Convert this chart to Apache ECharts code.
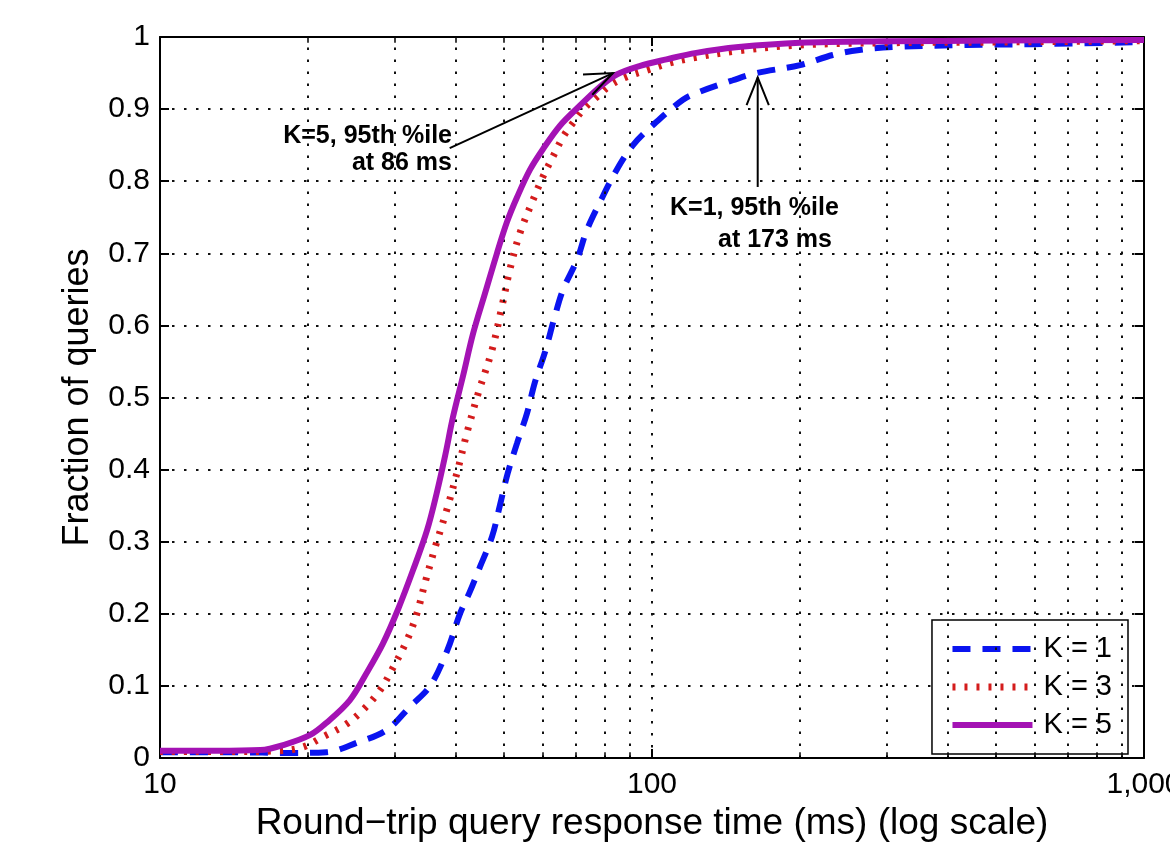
<!DOCTYPE html>
<html>
<head>
<meta charset="utf-8">
<script src="https://cdn.jsdelivr.net/npm/echarts@6/dist/echarts.min.js"></script>
<style>html,body{margin:0;padding:0;background:#fff;}#main{width:1170px;height:842px;}</style>
</head>
<body>
<div id="main"></div>
<script>
// ---- data ----
const seriesNames = ['K = 1', 'K = 3', 'K = 5'];
const k1X = [10, 14, 18.6, 21.8, 25.1, 28.9, 32.2, 35.4, 38.4, 40.7, 42.6, 44.7, 47.3, 49.1, 50.9, 53.2, 55.7, 57.8, 60.6, 63.3, 65.9, 70.4, 73.7, 78.4, 84.8, 91.5, 100.5, 115.6, 125, 146, 163, 200, 233, 264, 309, 435, 593, 1000];
const k1Y = [0.008, 0.008, 0.007, 0.008, 0.021, 0.039, 0.071, 0.100, 0.150, 0.200, 0.230, 0.265, 0.307, 0.351, 0.395, 0.437, 0.478, 0.521, 0.563, 0.61, 0.649, 0.691, 0.732, 0.771, 0.816, 0.850, 0.878, 0.913, 0.924, 0.940, 0.950, 0.961, 0.975, 0.982, 0.986, 0.989, 0.990, 0.993];
const k3X = [10, 14, 17.5, 19.5, 21.4, 23.8, 25.8, 28.0, 29.8, 31.8, 33.3, 34.6, 36.2, 38.3, 40.3, 42.1, 44.3, 47.3, 49.5, 51.4, 53.9, 57.3, 60.0, 62.9, 65.9, 69.1, 73.1, 77.3, 82.2, 89.0, 97.7, 108.8, 121, 150, 200, 300, 500, 1000];
const k3Y = [0.009, 0.009, 0.01, 0.015, 0.029, 0.046, 0.066, 0.094, 0.126, 0.164, 0.201, 0.244, 0.291, 0.345, 0.400, 0.452, 0.505, 0.566, 0.625, 0.677, 0.728, 0.774, 0.806, 0.834, 0.861, 0.881, 0.902, 0.917, 0.933, 0.945, 0.954, 0.964, 0.971, 0.981, 0.989, 0.992, 0.993, 0.995];
const k5X = [10, 13, 16.0, 18.0, 20.2, 21.8, 24.3, 26.3, 28.4, 30.5, 32.7, 34.9, 36.5, 38.0, 39.4, 41.3, 43.3, 45.8, 48.4, 50.7, 53.2, 56.5, 60.1, 65.0, 71.4, 78.4, 84.8, 94.6, 107, 123, 150, 200, 300, 500, 1000];
const k5Y = [0.010, 0.010, 0.011, 0.019, 0.032, 0.049, 0.080, 0.118, 0.159, 0.207, 0.261, 0.316, 0.367, 0.420, 0.473, 0.530, 0.589, 0.645, 0.700, 0.743, 0.778, 0.816, 0.845, 0.877, 0.905, 0.931, 0.948, 0.960, 0.969, 0.978, 0.986, 0.992, 0.994, 0.995, 0.996];
const minorX = [20, 30, 40, 50, 60, 70, 80, 90, 200, 300, 400, 500, 600, 700, 800, 900];
const xTickLabels = {10: '10', 100: '100', 1000: '1,000'};
const notes = [
  {lines: ['K=5, 95th %ile', 'at 86 ms'], from: [38.8, 0.846], to: [83.3, 0.950]},
  {lines: ['K=1, 95th %ile', 'at 173 ms'], from: [164, 0.792], to: [164, 0.944]}
];

const pairs = (xs, ys) => xs.map((x, i) => [x, ys[i]]);
const font = 'Arial, "Liberation Sans", Helvetica, sans-serif';
const gridDot = {color: '#111', width: 2, type: [2.5, 9.5]};

const minorGrid = minorX.map(v => ({xAxis: v}));
const minorTicks = [];
minorX.forEach(v => {
  minorTicks.push([{coord: [v, 0]}, {coord: [v, 0.008]}]);
  minorTicks.push([{coord: [v, 1]}, {coord: [v, 0.992]}]);
});

const chart = echarts.init(document.getElementById('main'));
const hideSym = {opacity: 0, borderWidth: 0};
const option = {
  animation: false,
  backgroundColor: '#fff',
  grid: {left: 160, right: 26, top: 37, bottom: 84, containLabel: false, outerBoundsMode: 'none'},
  legend: {
    orient: 'vertical', right: 42, bottom: 88,
    data: [
      {name: seriesNames[0], lineStyle: {width: 6}, itemStyle: hideSym},
      {name: seriesNames[1], lineStyle: {width: 7}, itemStyle: hideSym},
      {name: seriesNames[2], lineStyle: {width: 6}, itemStyle: hideSym}
    ],
    itemWidth: 80, itemHeight: 14, itemGap: 8,
    padding: [14, 16, 14, 17],
    backgroundColor: '#fff', borderColor: '#000', borderWidth: 1.5, borderRadius: 0,
    textStyle: {fontFamily: font, fontSize: 29, color: '#000', lineHeight: 30, padding: [0, 0, 0, 6]},
    selectedMode: false
  },
  xAxis: [{
    type: 'log', logBase: 10, min: 10, max: 1000,
    name: 'Round\u2212trip query response time (ms) (log scale)',
    nameLocation: 'middle', nameGap: 22,
    nameTextStyle: {fontFamily: font, fontSize: 37, color: '#000'},
    axisLine: {show: true, onZero: false, lineStyle: {color: '#000', width: 2}},
    axisTick: {show: true, inside: true, length: 9, lineStyle: {color: '#000', width: 2}},
    axisLabel: {fontFamily: font, fontSize: 30, color: '#000', margin: 12,
      formatter: v => xTickLabels[Math.round(v)] || ''},
    splitLine: {show: true, lineStyle: gridDot},
    minorTick: {show: false}
  }, {
    type: 'log', logBase: 10, min: 10, max: 1000, position: 'top',
    axisLine: {show: true, onZero: false, lineStyle: {color: '#000', width: 2}},
    axisTick: {show: true, inside: true, length: 9, lineStyle: {color: '#000', width: 2}},
    axisLabel: {show: false}, splitLine: {show: false}
  }],
  yAxis: [{
    type: 'value', min: 0, max: 1, interval: 0.1,
    name: 'Fraction of queries', nameLocation: 'middle', nameGap: 64, nameRotate: 90,
    nameTextStyle: {fontFamily: font, fontSize: 36, color: '#000'},
    axisLine: {show: true, onZero: false, lineStyle: {color: '#000', width: 2}},
    axisTick: {show: true, inside: true, length: 9, lineStyle: {color: '#000', width: 2}},
    axisLabel: {fontFamily: font, fontSize: 30, color: '#000', margin: 10,
      formatter: v => (v === 0 ? '0' : (Math.abs(v - 1) < 1e-9 ? '1' : v.toFixed(1)))},
    splitLine: {show: true, lineStyle: gridDot}
  }, {
    type: 'value', min: 0, max: 1, interval: 0.1, position: 'right',
    axisLine: {show: true, onZero: false, lineStyle: {color: '#000', width: 2}},
    axisTick: {show: true, inside: true, length: 9, lineStyle: {color: '#000', width: 2}},
    axisLabel: {show: false}, splitLine: {show: false}
  }],
  series: [
    {
      type: 'line', data: [], z: 1, silent: true, symbol: 'none',
      markLine: {silent: true, symbol: ['none', 'none'], label: {show: false}, animation: false,
        lineStyle: gridDot, emphasis: {disabled: true}, data: minorGrid}
    },
    {
      type: 'line', data: [], z: 1, silent: true, symbol: 'none',
      markLine: {silent: true, symbol: ['none', 'none'], label: {show: false}, animation: false,
        lineStyle: {color: '#000', width: 1.5, type: 'solid'}, emphasis: {disabled: true}, data: minorTicks}
    },
    {
      name: seriesNames[0], type: 'line', data: pairs(k1X, k1Y), smooth: 0.35, symbol: 'none', showSymbol: false, z: 3,
      lineStyle: {color: '#0a14f0', width: 6, type: [18, 12], cap: 'butt'}, itemStyle: {color: '#0a14f0'}
    },
    {
      name: seriesNames[1], type: 'line', data: pairs(k3X, k3Y), smooth: 0.35, symbol: 'none', showSymbol: false, z: 4,
      lineStyle: {color: '#d41c1c', width: 7, type: [3, 9], cap: 'butt'}, itemStyle: {color: '#d41c1c'}
    },
    {
      name: seriesNames[2], type: 'line', data: pairs(k5X, k5Y), smooth: 0.35, symbol: 'none', showSymbol: false, z: 5,
      lineStyle: {color: '#a412b4', width: 6, type: 'solid'}, itemStyle: {color: '#a412b4'}
    }
  ]
};
chart.setOption(option);

// annotations: arrows positioned through the chart's own scales
const toPx = p => chart.convertToPixel({xAxisIndex: 0, yAxisIndex: 0}, p);
const g = [];
notes.forEach((n) => {
  const a = toPx(n.from), b = toPx(n.to);
  const ang = Math.atan2(b[1] - a[1], b[0] - a[0]);
  const L = 30, spread = 0.38;
  const w1 = [b[0] - L * Math.cos(ang - spread), b[1] - L * Math.sin(ang - spread)];
  const w2 = [b[0] - L * Math.cos(ang + spread), b[1] - L * Math.sin(ang + spread)];
  g.push({type: 'line', shape: {x1: a[0], y1: a[1], x2: b[0], y2: b[1]}, style: {stroke: '#000', lineWidth: 2}, z: 50});
  g.push({type: 'polyline', shape: {points: [w1, b, w2]}, style: {stroke: '#000', lineWidth: 2, fill: null}, z: 50});
});
const tfont = 'bold 25px ' + font;
g.push({type: 'text', x: 452, y: 136, style: {text: notes[0].lines[0], font: tfont, fill: '#000', align: 'right', verticalAlign: 'middle'}, z: 60});
g.push({type: 'text', x: 452, y: 163, style: {text: notes[0].lines[1], font: tfont, fill: '#000', align: 'right', verticalAlign: 'middle'}, z: 60});
g.push({type: 'text', x: 670, y: 208, style: {text: notes[1].lines[0], font: tfont, fill: '#000', align: 'left', verticalAlign: 'middle'}, z: 60});
g.push({type: 'text', x: 718, y: 240, style: {text: notes[1].lines[1], font: tfont, fill: '#000', align: 'left', verticalAlign: 'middle'}, z: 60});
chart.setOption({graphic: g});
</script>
</body>
</html>
